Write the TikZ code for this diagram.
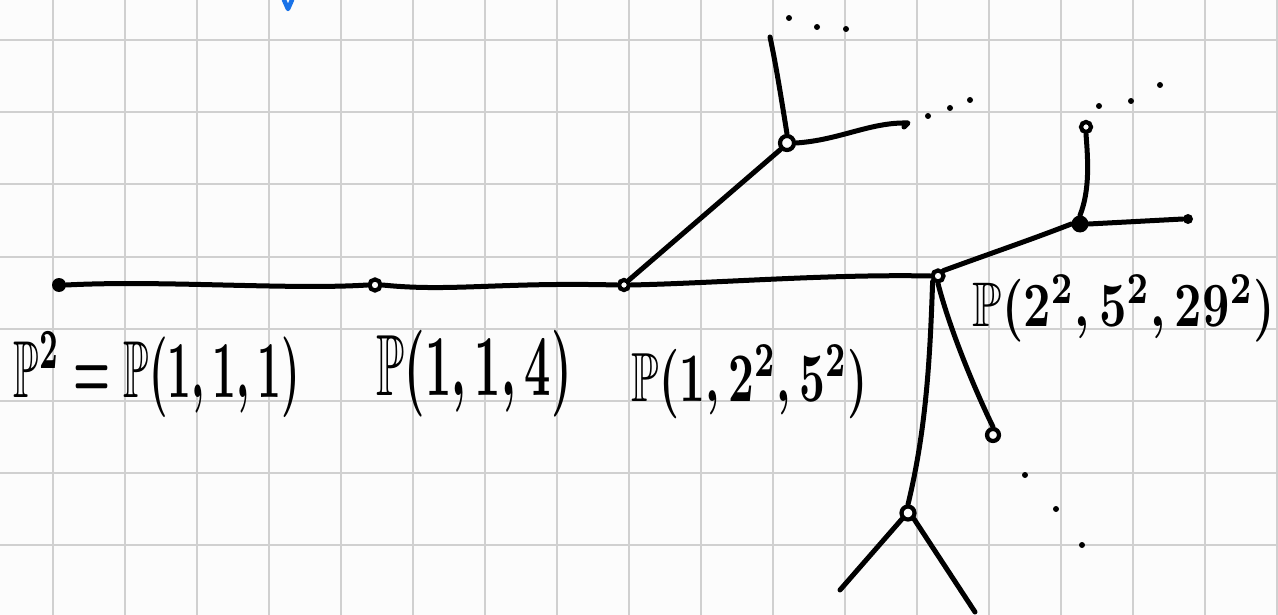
\documentclass[tikz,border=0pt]{standalone}
\usepackage{amssymb}
\usepackage{graphicx}
\definecolor{gridc}{HTML}{D0D0D0}
\definecolor{paper}{HTML}{FCFCFC}
\definecolor{penblue}{HTML}{1A73E8}
\begin{document}
\begin{tikzpicture}[x=1pt,y=-1pt,
  pen/.style={line width=5pt,line cap=round,line join=round},
  ring/.style={circle,draw,line width=4.2pt,inner sep=0pt,minimum size=#1},
  blob/.style={circle,fill,inner sep=0pt,minimum size=#1},
  tiny/.style={circle,fill,inner sep=0pt,minimum size=6pt},
  lab/.style={inner sep=0pt}]
\fill[paper] (0,0) rectangle (1278,615);
\useasboundingbox (0,0) rectangle (1278,615);
\foreach \x in {53,125,...,1277} \draw[gridc,line width=2pt] (\x,0) -- (\x,615);
\foreach \y in {40.5,112.5,...,615} \draw[gridc,line width=2pt] (0,\y) -- (1278,\y);
% blue mark
\draw[penblue,line width=4.5pt,line cap=round,line join=round] (284,0) -- (288,9) -- (292,0);
% vertices
\node[blob=14pt] (A) at (59,285) {};
\node[ring=11pt] (B) at (375,285) {};
\node[ring=10pt] (C) at (624,285) {};
\node[ring=14pt] (D) at (787,143) {};
\node[ring=11pt] (E) at (938,276) {};
\node[blob=17pt] (F) at (1080,224) {};
\node[ring=12pt] (H) at (993,435) {};
\node[ring=13pt] (G) at (908,513) {};
\node[blob=10pt] (Fr) at (1188,219) {};
\node[ring=10pt] (Ft) at (1086,127) {};
\coordinate (Dt) at (770,37);
\coordinate (Dr) at (908,123);
\coordinate (Gl) at (840,590);
\coordinate (Gr) at (975,612);
% edges
\draw[pen] (A.east) .. controls (160,280) and (290,290) .. (B.west);
\draw[pen] (B.east) .. controls (450,292) and (500,282) .. (C.west);
\draw[pen] (C.north east) -- (D.south west);
\draw[pen] (C.east) .. controls (720,283) and (830,274) .. (E.west);
\draw[pen] (D.north) .. controls (780,90) and (775,60) .. (Dt);
\draw[pen] (D.east) .. controls (840,140) and (870,122) .. (Dr) -- (904,127);
\draw[pen] (E.north east) .. controls (1000,250) and (1030,240) .. (F.west);
\draw[pen] (F.east) -- (Fr.west);
\draw[pen] (F.north) .. controls (1090,190) and (1088,160) .. (Ft.south);
\draw[pen] (E.south west) .. controls (930,360) and (926,430) .. (G.north);
\draw[pen] (E.south) .. controls (950,330) and (975,390) .. (H.north);
\draw[pen] (G.south west) -- (Gl);
\draw[pen] (G.south east) -- (Gr);
% ellipsis dots
\foreach \p in {(789,18),(817,27),(846,29),(928,116),(950,108),(970,100),(1099,106),(1131,101),(1160,85),(1025,475),(1056,509),(1082,545)}
  \node[tiny] at \p {};
% labels
\node[lab] (lA) at (157,375) {\resizebox*{286pt}{86pt}{\boldmath$\mathbb{P}^2=\mathbb{P}(1,1,1)$}};
\node[lab] (lB) at (474,374) {\resizebox*{195pt}{87pt}{\boldmath$\mathbb{P}(1,1,4)$}};
\node[lab] (lC) at (750,382) {\resizebox*{236pt}{74pt}{\boldmath$\mathbb{P}(1,2^2,5^2)$}};
\node[lab] (lE) at (1124,309) {\resizebox*{302pt}{67pt}{\boldmath$\mathbb{P}(2^2,5^2,29^2)$}};
\end{tikzpicture}
\end{document}
